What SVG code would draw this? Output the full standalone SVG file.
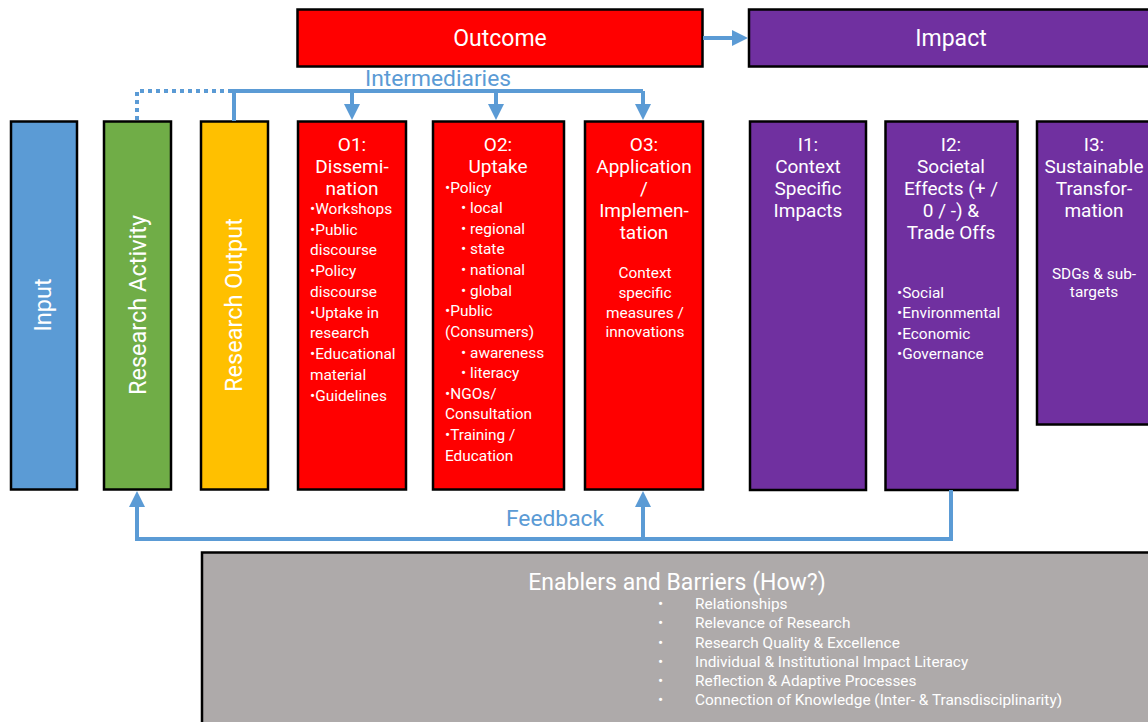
<svg xmlns="http://www.w3.org/2000/svg" width="1148" height="722" viewBox="0 0 1148 722">
<style>
.box{stroke:#000;stroke-width:2.5}
.red{fill:#FF0000}.pur{fill:#7030A0}.blue{fill:#5B9BD5}.green{fill:#70AD47}.yel{fill:#FFC000}.gray{fill:#AEAAAA}
text{font-family:Roboto,"Liberation Sans",sans-serif;fill:#fff}
.big{font-size:23px;text-anchor:middle}
.vt{font-size:23.5px;text-anchor:middle}
.ttl{font-size:19px;text-anchor:middle}
.b{font-size:15.4px}
.bc{font-size:15.4px;text-anchor:middle}
.lbl{font-size:22.8px;fill:#5B9BD5;text-anchor:middle}
.con{fill:none;stroke:#5B9BD5;stroke-width:4}
</style>
<defs>
<marker id="ah" viewBox="0 0 16 16" refX="6" refY="8" markerWidth="16" markerHeight="16" markerUnits="userSpaceOnUse" orient="auto">
<path d="M0,0 L16,8 L0,16 z" fill="#5B9BD5"/>
</marker>
</defs>
<rect width="1148" height="722" fill="#fff"/>

<g id="outcome"><rect class="box red" x="297.5" y="9.5" width="405" height="57"/><text class="big" x="500" y="46">Outcome</text></g>
<g id="impact"><rect class="box pur" x="749" y="9.5" width="410" height="57"/><text class="big" x="951" y="46">Impact</text></g>

<g id="input"><rect class="box blue" x="11" y="121.5" width="66" height="368"/><text class="vt" transform="translate(51,305) rotate(-90)">Input</text></g>
<g id="activity"><rect class="box green" x="104" y="121.5" width="67" height="368"/><text class="vt" transform="translate(146,305) rotate(-90)">Research Activity</text></g>
<g id="output"><rect class="box yel" x="201" y="121.5" width="67" height="368"/><text class="vt" transform="translate(242,305) rotate(-90)">Research Output</text></g>

<g id="o1"><rect class="box red" x="298" y="121.5" width="108" height="368"/>
<text class="ttl" x="352" y="151">O1:</text><text class="ttl" x="352" y="173">Dissemi-</text><text class="ttl" x="352" y="195">nation</text>
<text class="b" x="310"><tspan x="310" y="214">•Workshops</tspan><tspan x="310" y="235">•Public</tspan><tspan x="310" y="255">discourse</tspan><tspan x="310" y="276">•Policy</tspan><tspan x="310" y="297">discourse</tspan><tspan x="310" y="318">•Uptake in</tspan><tspan x="310" y="338">research</tspan><tspan x="310" y="359">•Educational</tspan><tspan x="310" y="380">material</tspan><tspan x="310" y="401">•Guidelines</tspan></text>
</g>

<g id="o2"><rect class="box red" x="433" y="121.5" width="131" height="368"/>
<text class="ttl" x="498" y="151">O2:</text><text class="ttl" x="498" y="173">Uptake</text>
<text class="b"><tspan x="445" y="193">•Policy</tspan><tspan x="461" y="213">• local</tspan><tspan x="461" y="234">• regional</tspan><tspan x="461" y="254">• state</tspan><tspan x="461" y="275">• national</tspan><tspan x="461" y="296">• global</tspan><tspan x="445" y="316">•Public</tspan><tspan x="445" y="337">(Consumers)</tspan><tspan x="461" y="358">• awareness</tspan><tspan x="461" y="378">• literacy</tspan><tspan x="445" y="399">•NGOs/</tspan><tspan x="445" y="419">Consultation</tspan><tspan x="445" y="440">•Training /</tspan><tspan x="445" y="461">Education</tspan></text>
</g>

<g id="o3"><rect class="box red" x="585" y="121.5" width="118" height="368"/>
<text class="ttl" x="644" y="151">O3:</text><text class="ttl" x="644" y="173">Application</text><text class="ttl" x="644" y="195">/</text><text class="ttl" x="644" y="217">Implemen-</text><text class="ttl" x="644" y="239">tation</text>
<text class="bc"><tspan x="645" y="278">Context</tspan><tspan x="645" y="298">specific</tspan><tspan x="645" y="318">measures /</tspan><tspan x="645" y="337">innovations</tspan></text>
</g>

<g id="i1"><rect class="box pur" x="750" y="121.5" width="116" height="368.5"/>
<text class="ttl" x="808" y="151">I1:</text><text class="ttl" x="808" y="173">Context</text><text class="ttl" x="808" y="195">Specific</text><text class="ttl" x="808" y="217">Impacts</text>
</g>

<g id="i2"><rect class="box pur" x="885.5" y="121.5" width="132" height="368.5"/>
<text class="ttl" x="951" y="151">I2:</text><text class="ttl" x="951" y="173">Societal</text><text class="ttl" x="951" y="195">Effects (+ /</text><text class="ttl" x="951" y="217">0 / -) &amp;</text><text class="ttl" x="951" y="239">Trade Offs</text>
<text class="b"><tspan x="897" y="298">•Social</tspan><tspan x="897" y="318">•Environmental</tspan><tspan x="897" y="339">•Economic</tspan><tspan x="897" y="359">•Governance</tspan></text>
</g>

<g id="i3"><rect class="box pur" x="1037" y="121.5" width="120" height="303"/>
<text class="ttl" x="1094" y="151">I3:</text><text class="ttl" x="1094" y="173">Sustainable</text><text class="ttl" x="1094" y="195">Transfor-</text><text class="ttl" x="1094" y="217">mation</text>
<text class="bc"><tspan x="1094" y="279">SDGs &amp; sub-</tspan><tspan x="1094" y="297">targets</tspan></text>
</g>

<g id="enablers"><rect class="box gray" x="202" y="552.5" width="960" height="190"/>
<text class="big" x="677" y="590">Enablers and Barriers (How?)</text>
<text class="b"><tspan x="658" y="609">•</tspan><tspan x="658" y="628">•</tspan><tspan x="658" y="648">•</tspan><tspan x="658" y="667">•</tspan><tspan x="658" y="686">•</tspan><tspan x="658" y="705">•</tspan></text>
<text class="b"><tspan x="695" y="609">Relationships</tspan><tspan x="695" y="628">Relevance of Research</tspan><tspan x="695" y="648">Research Quality &amp; Excellence</tspan><tspan x="695" y="667">Individual &amp; Institutional Impact Literacy</tspan><tspan x="695" y="686">Reflection &amp; Adaptive Processes</tspan><tspan x="695" y="705">Connection of Knowledge (Inter- &amp; Transdisciplinarity)</tspan></text>
</g>

<g id="connectors">
<path class="con" d="M703,38 H738" marker-end="url(#ah)"/>
<path class="con" d="M137,120 V91 H234" stroke-dasharray="4 4"/>
<path class="con" d="M234,121 V91 H643"/>
<path class="con" d="M352,91 V110" marker-end="url(#ah)"/>
<path class="con" d="M496,91 V110" marker-end="url(#ah)"/>
<path class="con" d="M643,91 V110" marker-end="url(#ah)"/>
<path class="con" d="M951,490 V539 H137 V501" marker-end="url(#ah)"/>
<path class="con" d="M643,539 V501" marker-end="url(#ah)"/>
<text class="lbl" x="438" y="86">Intermediaries</text>
<text class="lbl" x="555" y="526">Feedback</text>
</g>
</svg>
